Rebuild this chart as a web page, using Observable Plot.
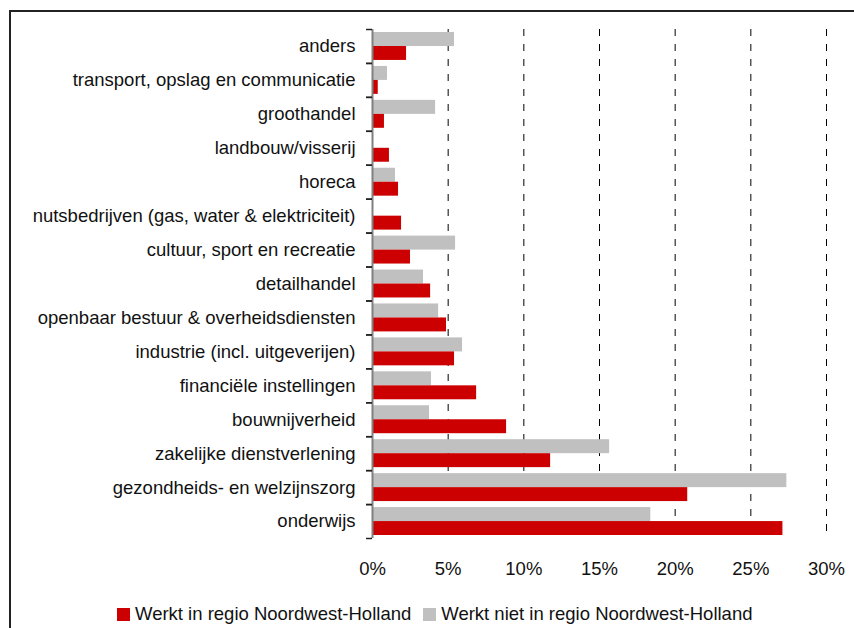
<!DOCTYPE html>
<html>
<head>
<meta charset="utf-8">
<script src="https://cdn.jsdelivr.net/npm/d3@7"></script>
<script src="https://cdn.jsdelivr.net/npm/@observablehq/plot@0.6"></script>
<style>
  html, body { margin: 0; padding: 0; background: #fff; width: 854px; height: 628px; overflow: hidden; }
  #frame { position: absolute; left: 9px; top: 10px; width: 870px; height: 660px; border: 2px solid #222; box-sizing: border-box; }
  #chart { position: absolute; left: 0; top: 0; }
  #legend { position: absolute; left: 117px; top: 603px; font-family: "Liberation Sans", Arial, sans-serif; font-size: 18.5px; color: #111; white-space: nowrap; line-height: 22px; }
  #legend span.item { display: inline-flex; align-items: center; }
  #legend span.sw { display: inline-block; width: 13px; height: 13px; margin-right: 5px; }
</style>
</head>
<body>
<div id="frame"></div>
<div id="chart"></div>
<div id="legend"></div>
<script>
const categories = [
  "anders",
  "transport, opslag en communicatie",
  "groothandel",
  "landbouw/visserij",
  "horeca",
  "nutsbedrijven (gas, water & elektriciteit)",
  "cultuur, sport en recreatie",
  "detailhandel",
  "openbaar bestuur & overheidsdiensten",
  "industrie (incl. uitgeverijen)",
  "financiële instellingen",
  "bouwnijverheid",
  "zakelijke dienstverlening",
  "gezondheids- en welzijnszorg",
  "onderwijs"
];
const seriesNames = ["Werkt in regio Noordwest-Holland", "Werkt niet in regio Noordwest-Holland"];
const inRegio =     [2.25, 0.38, 0.79, 1.12, 1.72, 1.92, 2.51, 3.84, 4.89, 5.42, 6.88, 8.86, 11.77, 20.83, 27.12];
const nietInRegio = [5.42, 0.99, 4.17, 0.00, 1.52, 0.00, 5.49, 3.37, 4.37, 5.95, 3.90, 3.77, 15.67, 27.38, 18.39];
const xTicks = [0, 5, 10, 15, 20, 25, 30];
const colors = ["#cc0000", "#c0c0c0"];

const redData = categories.map((c, i) => ({category: c, value: inRegio[i]}));
const grayData = categories.map((c, i) => ({category: c, value: nietInRegio[i]}));

const W = 854, H = 596;
const mTop = 29, mBottom = H - 538, mLeft = 372, mRight = 28;
const bw = (H - mTop - mBottom) / categories.length;

const chart = Plot.plot({
  width: W,
  height: H,
  marginTop: mTop,
  marginBottom: mBottom,
  marginLeft: mLeft,
  marginRight: mRight,
  style: {fontFamily: "'Liberation Sans', Arial, sans-serif", fontSize: "18.5px", color: "#111", background: "transparent", overflow: "visible"},
  x: {domain: [0, 30], round: false},
  y: {domain: categories, padding: 0, round: false, label: null},
  marks: [
    Plot.ruleX(xTicks.filter(d => d > 0), {stroke: "#000", strokeWidth: 1, strokeDasharray: "7,8"}),
    Plot.barX(grayData, {x: "value", y: "category", fill: colors[1], insetTop: 3, insetBottom: bw - 17}),
    Plot.barX(redData, {x: "value", y: "category", fill: colors[0], insetTop: 17, insetBottom: 3}),
    Plot.ruleX([0], {stroke: "#808080", strokeWidth: 2}),
    Plot.axisY({tickSize: 6, tickFormat: () => "", label: null, dy: -bw / 2, stroke: "#222", strokeWidth: 1.5}),
    Plot.axisY({tickSize: 6, tickFormat: () => "", label: null, dy: bw / 2, stroke: "#222", strokeWidth: 1.5}),
    Plot.axisY({tickSize: 0, tickPadding: 17, label: null, fill: "#111"}),
    Plot.axisX({ticks: xTicks, tickSize: 0, tickPadding: 23, tickFormat: d => d + "%", label: null, fill: "#111"})
  ]
});
document.getElementById("chart").appendChild(chart);

const legend = document.getElementById("legend");
seriesNames.forEach((name, i) => {
  const item = document.createElement("span");
  item.className = "item";
  if (i > 0) item.style.marginLeft = "12px";
  const sw = document.createElement("span");
  sw.className = "sw";
  sw.style.background = colors[i];
  item.appendChild(sw);
  item.appendChild(document.createTextNode(name));
  legend.appendChild(item);
});
</script>
</body>
</html>
